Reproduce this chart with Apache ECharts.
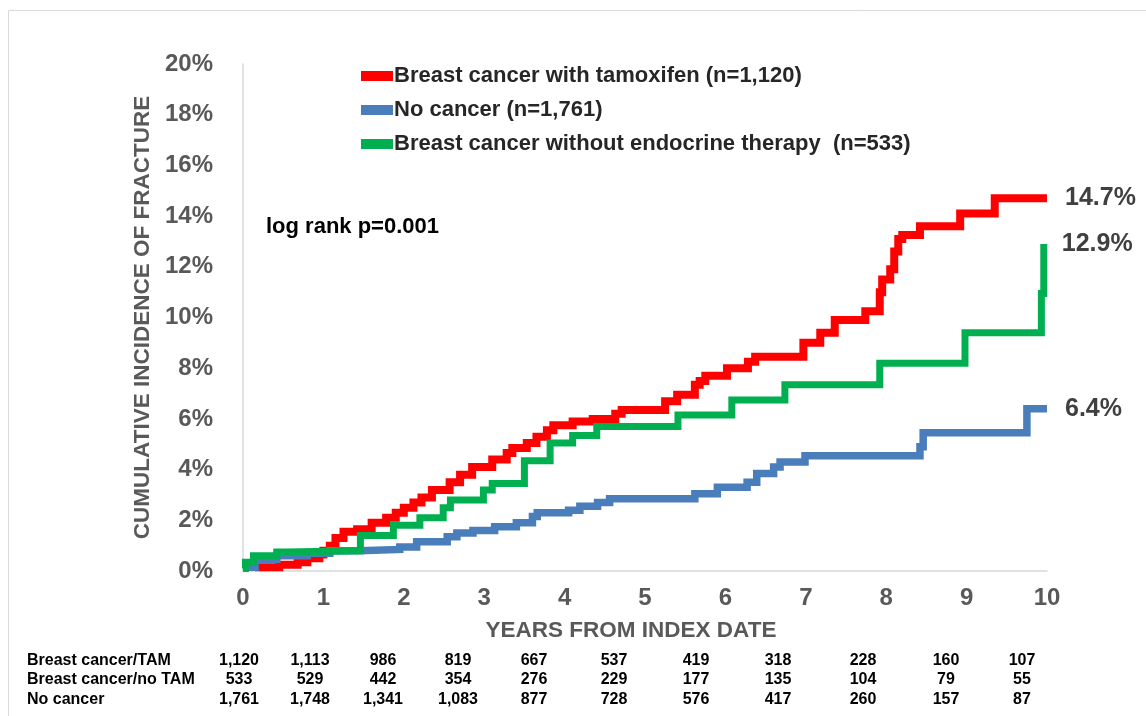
<!DOCTYPE html>
<html><head><meta charset="utf-8">
<script src="https://cdn.jsdelivr.net/npm/echarts@6/dist/echarts.min.js"></script>
<style>html,body{margin:0;padding:0;background:#fff}#c{width:1146px;height:716px}</style>
</head><body><div id="c"></div>
<script>
// ---- data ----
const seriesNames = ['Breast cancer with tamoxifen (n=1,120)', 'No cancer (n=1,761)', 'Breast cancer without endocrine therapy  (n=533)'];
// [year, cumulative incidence %]
const tamoxifen = [[0.15,0.15],[0.45,0.25],[0.68,0.35],[0.8,0.5],[0.95,0.65],[1.0,0.8],[1.08,1.0],[1.15,1.3],[1.25,1.55],[1.42,1.65],[1.6,1.9],[1.78,2.1],[1.9,2.3],[2.0,2.5],[2.12,2.7],[2.22,2.9],[2.35,3.2],[2.57,3.5],[2.7,3.8],[2.85,4.1],[3.1,4.4],[3.28,4.65],[3.35,4.85],[3.53,5.05],[3.65,5.3],[3.78,5.55],[3.86,5.75],[4.1,5.9],[4.35,6.0],[4.63,6.2],[4.71,6.35],[5.25,6.7],[5.4,6.95],[5.62,7.35],[5.68,7.5],[5.75,7.7],[6.02,8.0],[6.28,8.25],[6.37,8.45],[6.97,9.0],[7.18,9.4],[7.36,9.9],[7.74,10.25],[7.92,11.0],[7.95,11.5],[8.05,11.9],[8.1,12.6],[8.15,13.1],[8.2,13.25],[8.42,13.6],[8.92,14.1],[9.35,14.7],[10,14.7]];
const noCancer = [[0.05,0.15],[0.15,0.45],[0.42,0.6],[0.8,0.7],[1.08,0.8],[1.45,0.85],[1.95,0.95],[2.16,1.15],[2.54,1.35],[2.66,1.5],[2.86,1.6],[3.13,1.75],[3.4,1.9],[3.6,2.15],[3.66,2.3],[4.05,2.4],[4.19,2.55],[4.41,2.7],[4.56,2.85],[5.62,3.05],[5.9,3.3],[6.27,3.5],[6.39,3.85],[6.6,4.1],[6.68,4.3],[6.99,4.55],[8.42,4.9],[8.46,5.45],[9.75,6.4],[10,6.4]];
const noEndocrine = [[0,0.1],[0.03,0.35],[0.13,0.6],[0.42,0.75],[0.55,0.8],[1.46,1.4],[1.87,1.8],[2.2,2.1],[2.49,2.5],[2.58,2.8],[2.99,3.2],[3.1,3.45],[3.5,4.35],[3.82,5.05],[4.1,5.35],[4.4,5.7],[5.41,6.15],[6.08,6.75],[6.74,7.35],[7.92,8.2],[8.98,9.4],[9.93,10.95],[9.96,12.9]];
const annotation = 'log rank p=0.001';
const yTitle = 'CUMULATIVE INCIDENCE OF FRACTURE';
const xTitle = 'YEARS FROM INDEX DATE';
const riskRowLabels = ['Breast cancer/TAM', 'Breast cancer/no TAM', 'No cancer'];
const riskTAM   = ['1,120','1,113','986','819','667','537','419','318','228','160','107'];
const riskNoTAM = ['533','529','442','354','276','229','177','135','104','79','55'];
const riskNone  = ['1,761','1,748','1,341','1,083','877','728','576','417','260','157','87'];

// ---- layout / style ----
const ARIAL = "'Liberation Sans',Arial,sans-serif";
const GRAY = '#595959';
const colors = ['#FF0000', '#4A7EBB', '#00B050'];
const tableColX = [239, 310, 383, 458, 534, 614, 696, 778, 863, 946, 1022];
const tableRowY = [661, 680, 700];
const tableRows = [riskTAM, riskNoTAM, riskNone];

const graphics = [
  {type:'rect', shape:{x:8.5,y:10.5,width:1200,height:800}, style:{fill:'none', stroke:'#d9d9d9', lineWidth:1}, silent:true},
  {type:'text', left:266, top:216, style:{text:annotation, font:"bold 22px " + ARIAL, fill:'#000'}}
];
riskRowLabels.forEach((lab, r) => {
  graphics.push({type:'text', x:27, y:tableRowY[r], style:{text:lab, font:"bold 16px " + ARIAL, fill:'#000', textAlign:'left', textVerticalAlign:'middle'}});
  tableRows[r].forEach((v, i) => {
    graphics.push({type:'text', x:tableColX[i], y:tableRowY[r], style:{text:v, font:"bold 16px " + ARIAL, fill:'#000', textAlign:'center', textVerticalAlign:'middle'}});
  });
});

const mkSeries = (name, data, color, width) => ({
  name, type:'line', data, step:'end', showSymbol:false, symbol:'none',
  lineStyle:{color, width, cap:'butt', join:'miter'}, itemStyle:{color},
  animation:false,
  endLabel:{show:true, formatter: p => p.value[1].toFixed(1) + '%', color:'#404040', fontFamily:ARIAL, fontWeight:'bold', fontSize:25, distance:18}
});

const chart = echarts.init(document.getElementById('c'), null, {renderer:'canvas'});
chart.setOption({
  backgroundColor:'#fff',
  animation:false,
  grid:{left:243, right:99, top:64, bottom:145, containLabel:false},
  legend:{
    orient:'vertical', left:356, top:60, itemGap:12, itemWidth:32, itemHeight:10, icon:'rect',
    data: seriesNames,
    textStyle:{fontFamily:ARIAL, fontWeight:'bold', fontSize:22, color:'#262626', padding:[0,0,0,-4]}
  },
  xAxis:{
    type:'value', min:0, max:10, interval:1,
    axisLine:{show:true, lineStyle:{color:'#d9d9d9', width:1.5}},
    axisTick:{show:false}, splitLine:{show:false},
    axisLabel:{color:GRAY, fontFamily:ARIAL, fontWeight:'bold', fontSize:24, margin:15},
    name:xTitle, nameLocation:'middle', nameGap:48,
    nameTextStyle:{color:GRAY, fontFamily:ARIAL, fontWeight:'bold', fontSize:22.5, padding:[0,28,0,0]}
  },
  yAxis:{
    type:'value', min:0, max:20, interval:2,
    axisLine:{show:true, lineStyle:{color:'#d9d9d9', width:1.5}},
    axisTick:{show:false}, splitLine:{show:false},
    axisLabel:{color:GRAY, fontFamily:ARIAL, fontWeight:'bold', fontSize:24, margin:30, formatter:'{value}%'},
    name:yTitle, nameLocation:'middle', nameRotate:90, nameGap:86,
    nameTextStyle:{color:GRAY, fontFamily:ARIAL, fontWeight:'bold', fontSize:22.5}
  },
  series:[
    mkSeries(seriesNames[0], tamoxifen, colors[0], 8),
    mkSeries(seriesNames[1], noCancer, colors[1], 7.5),
    mkSeries(seriesNames[2], noEndocrine, colors[2], 7)
  ],
  graphic: graphics
});
</script></body></html>
